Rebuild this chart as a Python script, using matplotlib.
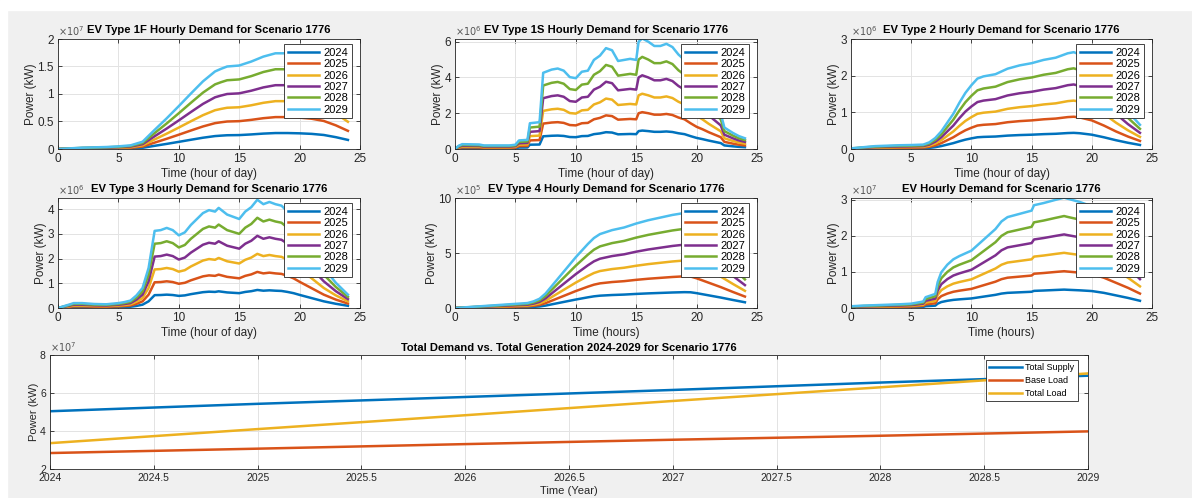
import matplotlib.pyplot as plt
from matplotlib.patches import Rectangle

plt.rcParams['font.family'] = ['Liberation Sans', 'DejaVu Sans']

years = ['2024', '2025', '2026', '2027', '2028', '2029']
# each later year is the 2024 profile scaled by this factor (read from the peaks)
year_scale = [1, 2, 3, 4, 5, 6]
colors = ['#0072BD', '#D95319', '#EDB120', '#7E2F8E', '#77AC30', '#4DBEEE']

# 2024 profiles, in the units of each panel's exponent
t_1f = [0, 1, 2, 3, 4, 5, 6, 7, 8, 9, 10, 11, 12, 13, 13.5, 14, 15, 16, 17, 18, 19, 20, 21, 22, 23, 24]
p_1f = [0, 0.002, 0.004, 0.005, 0.006, 0.008, 0.011, 0.022, 0.058, 0.093, 0.13, 0.168, 0.205,
        0.235, 0.243, 0.25, 0.253, 0.265, 0.28, 0.29, 0.29, 0.285, 0.275, 0.255, 0.215, 0.165]

t_1s = [0, 0.3, 0.6, 2, 2.4, 4.5, 5, 5.3, 6.0, 6.2, 7.0, 7.3, 8, 8.5, 9, 9.5, 10, 10.5, 11, 11.5,
        12, 12.5, 13, 13.5, 14, 14.5, 15, 15.2, 15.5, 16, 16.5, 17, 17.5, 18, 18.5, 19, 19.5, 20,
        20.5, 21, 21.5, 22, 22.3, 23, 23.5, 24]
p_1s = [0, 0.03, 0.045, 0.042, 0.033, 0.033, 0.04, 0.08, 0.085, 0.24, 0.25, 0.71, 0.74, 0.75,
        0.73, 0.67, 0.66, 0.72, 0.73, 0.83, 0.87, 0.94, 0.92, 0.82, 0.83, 0.84, 0.83, 1.0, 1.03,
        1.0, 0.96, 0.96, 0.98, 0.95, 0.88, 0.83, 0.72, 0.62, 0.55, 0.47, 0.4, 0.33, 0.2, 0.15,
        0.12, 0.1]

t_2 = [0, 1, 2, 3, 4, 5, 6, 6.5, 7, 7.5, 8, 8.5, 9, 9.5, 10, 10.5, 11, 12, 13, 14, 15, 16, 17,
       18, 18.5, 19, 20, 21, 22, 23, 24]
p_2 = [0.003, 0.008, 0.013, 0.015, 0.017, 0.018, 0.02, 0.03, 0.05, 0.08, 0.12, 0.16, 0.21, 0.255,
       0.29, 0.32, 0.33, 0.34, 0.365, 0.38, 0.39, 0.405, 0.415, 0.435, 0.44, 0.43, 0.39, 0.32,
       0.24, 0.17, 0.11]

t_3 = [0, 1, 1.3, 2, 3, 4, 5, 5.5, 6, 6.5, 7, 7.5, 8, 8.5, 9, 9.5, 10, 10.5, 11, 11.5, 12, 12.5,
       13, 13.3, 14, 14.5, 15, 15.5, 16, 16.5, 17, 17.5, 18, 18.5, 19, 19.5, 20, 21, 22, 23, 24]
p_3 = [0, 0.025, 0.033, 0.033, 0.027, 0.025, 0.033, 0.04, 0.05, 0.085, 0.135, 0.27, 0.52, 0.525,
       0.54, 0.525, 0.49, 0.51, 0.56, 0.6, 0.64, 0.66, 0.65, 0.675, 0.63, 0.615, 0.6, 0.65, 0.68,
       0.73, 0.7, 0.715, 0.7, 0.69, 0.65, 0.6, 0.53, 0.4, 0.27, 0.17, 0.09]

t_4 = [0, 2, 4, 6, 6.5, 7, 7.5, 8, 8.5, 9, 9.5, 10, 10.5, 11, 11.5, 12, 13, 14, 15, 16, 17, 18,
       19, 19.5, 20, 21, 22, 23, 24]
p_4 = [0, 0.025, 0.05, 0.075, 0.1, 0.14, 0.22, 0.33, 0.44, 0.55, 0.66, 0.77, 0.87, 0.97, 1.06,
       1.12, 1.18, 1.22, 1.28, 1.33, 1.37, 1.41, 1.44, 1.43, 1.35, 1.15, 0.95, 0.73, 0.52]

t_ev = [0, 1, 2, 3, 4, 5, 6, 6.2, 7, 7.2, 7.5, 8, 8.5, 9, 10, 11, 12, 12.5, 13, 14, 15, 15.2,
        16, 17, 17.7, 18, 19, 20, 21, 22, 23, 24]
p_ev = [0.008, 0.011, 0.013, 0.015, 0.017, 0.02, 0.03, 0.05, 0.065, 0.12, 0.165, 0.2, 0.225,
        0.24, 0.265, 0.315, 0.365, 0.4, 0.42, 0.435, 0.45, 0.475, 0.485, 0.5, 0.51, 0.505, 0.49,
        0.47, 0.42, 0.35, 0.28, 0.2]

# yearly totals, x10^7 kW
plan_years = [2024, 2025, 2026, 2027, 2028, 2029]
total_supply = [5.04, 5.43, 5.79, 6.16, 6.55, 6.91]
base_load = [2.84, 3.07, 3.31, 3.54, 3.75, 3.98]
total_load = [3.36, 4.10, 4.83, 5.58, 6.30, 7.03]

panels = [
    ('EV Type 1F Hourly Demand for Scenario 1776', t_1f, p_1f, 7, [0, 0.5, 1, 1.5, 2], ['0', '0.5', '1', '1.5', '2'], 2, 'Time (hour of day)'),
    ('EV Type 1S Hourly Demand for Scenario 1776', t_1s, p_1s, 6, [0, 2, 4, 6], ['0', '2', '4', '6'], 6.15, 'Time (hour of day)'),
    ('EV Type 2 Hourly Demand for Scenario 1776', t_2, p_2, 6, [0, 1, 2, 3], ['0', '1', '2', '3'], 3, 'Time (hour of day)'),
    ('EV Type 3 Hourly Demand for Scenario 1776', t_3, p_3, 6, [0, 1, 2, 3, 4], ['0', '1', '2', '3', '4'], 4.45, 'Time (hour of day)'),
    ('EV Type 4 Hourly Demand for Scenario 1776', t_4, p_4, 5, [0, 5, 10], ['0', '5', '10'], 10, 'Time (hours)'),
    ('EV Hourly Demand for Scenario 1776', t_ev, p_ev, 7, [0, 1, 2, 3], ['0', '1', '2', '3'], 3.05, 'Time (hours)'),
]

W, H = 1192, 498
fig = plt.figure(figsize=(W / 100, H / 100), dpi=100, facecolor='#f0f0f0')
fig.patches.append(Rectangle((0, 1 - 10 / H), 1, 10 / H, transform=fig.transFigure, color='white', zorder=-1))
fig.patches.append(Rectangle((0, 0), 7 / W, 1, transform=fig.transFigure, color='white', zorder=-1))


def px_axes(left, top, right, bottom):
    return fig.add_axes([left / W, 1 - bottom / H, (right - left) / W, (bottom - top) / H])


def style(ax, size):
    ax.set_facecolor('white')
    ax.grid(True, color='#e3e3e3', linewidth=0.7)
    ax.set_axisbelow(True)
    for s in ax.spines.values():
        s.set_color('#262626')
        s.set_linewidth(0.6)
    ax.tick_params(direction='in', length=3, width=0.6, top=True, right=True,
                   labelsize=size, colors='#262626', pad=3)


cols = [(58, 360), (455, 757), (851, 1152)]
rows = [(39, 149), (198, 308)]

for i, (title, t, p, ex, yt, ytl, ytop, xl) in enumerate(panels):
    left, right = cols[i % 3]
    top, bottom = rows[i // 3]
    ax = px_axes(left, top, right, bottom)
    style(ax, 8.5)
    for yr, k, c in zip(years, year_scale, colors):
        ax.plot(t, [v * k for v in p], color=c, linewidth=1.8, label=yr)
    ax.set_xlim(0, 25)
    ax.set_ylim(0, ytop)
    ax.set_xticks([0, 5, 10, 15, 20, 25])
    ax.set_yticks(yt)
    ax.set_yticklabels(ytl)
    ax.set_xlabel(xl, fontsize=8.5, color='#262626', labelpad=2)
    ax.set_ylabel('Power (kW)', fontsize=8.5, color='#262626', labelpad=0)
    ax.set_title(title, fontsize=8.1, fontweight='bold', pad=4)
    ax.text(0, 1.01, r'$\times10^{%d}$' % ex, transform=ax.transAxes, fontsize=7,
            color='#555555', ha='left', va='bottom')
    leg = ax.legend(loc='upper right', bbox_to_anchor=(0.975, 0.955), fontsize=8,
                    handlelength=2.8, labelspacing=0.12, borderpad=0.35, handletextpad=0.4,
                    fancybox=False, framealpha=1, edgecolor='#262626', borderaxespad=0)
    leg.get_frame().set_linewidth(0.6)

ax = px_axes(50, 355, 1088, 469)
style(ax, 7.5)
ax.plot(plan_years, total_supply, color=colors[0], linewidth=1.8, label='Total Supply')
ax.plot(plan_years, base_load, color=colors[1], linewidth=1.8, label='Base Load')
ax.plot(plan_years, total_load, color=colors[2], linewidth=1.8, label='Total Load')
ax.set_xlim(2024, 2029)
ax.set_ylim(2, 8)
ax.set_xticks([2024, 2024.5, 2025, 2025.5, 2026, 2026.5, 2027, 2027.5, 2028, 2028.5, 2029])
ax.set_xticklabels(['2024', '2024.5', '2025', '2025.5', '2026', '2026.5', '2027', '2027.5',
                    '2028', '2028.5', '2029'])
ax.set_yticks([2, 4, 6, 8])
ax.set_yticklabels(['2', '4', '6', '8'])
ax.set_xlabel('Time (Year)', fontsize=8, color='#262626', labelpad=2)
ax.set_ylabel('Power (kW)', fontsize=8, color='#262626', labelpad=1)
ax.set_title('Total Demand vs. Total Generation 2024-2029 for Scenario 1776', fontsize=8,
             fontweight='bold', pad=3)
ax.text(0, 1.01, r'$\times10^{7}$', transform=ax.transAxes, fontsize=7,
        color='#555555', ha='left', va='bottom')
leg = ax.legend(loc='upper right', bbox_to_anchor=(0.99, 0.96), fontsize=6.5,
                handlelength=3.6, labelspacing=0.45, borderpad=0.35, handletextpad=0.4,
                fancybox=False, framealpha=1, edgecolor='#262626', borderaxespad=0)
leg.get_frame().set_linewidth(0.6)

fig.savefig('out.png', dpi=100, facecolor=fig.get_facecolor())
